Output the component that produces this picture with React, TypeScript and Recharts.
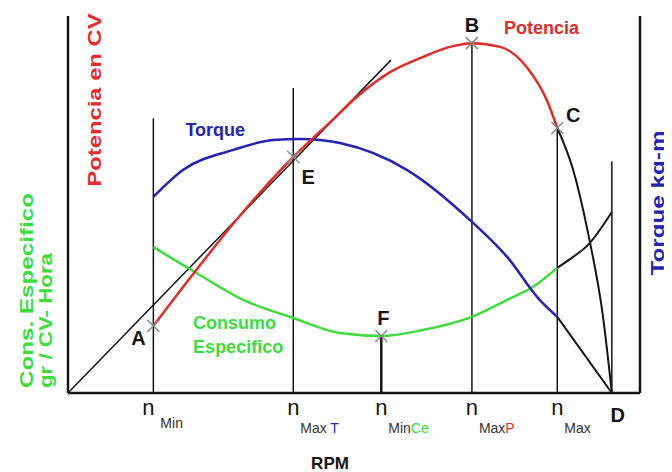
import { ComposedChart, Line, XAxis, YAxis, ReferenceLine, ReferenceDot } from "recharts";

const RED = "#e32b2b";
const BLUE = "#2424b4";
const GREEN = "#3ddc3d";
const INK = "#151515";

// rpm / relative value (0-100)
const potencia = [
  { rpm: 970, v: 17.8 }, { rpm: 1440, v: 32.1 }, { rpm: 1960, v: 47.2 }, { rpm: 2560, v: 62.6 },
  { rpm: 3010, v: 72.5 }, { rpm: 3280, v: 78.5 }, { rpm: 3660, v: 85.1 }, { rpm: 4030, v: 89.1 },
  { rpm: 4340, v: 91.8 }, { rpm: 4590, v: 92.8 }, { rpm: 4910, v: 91.8 }, { rpm: 5220, v: 86.2 },
  { rpm: 5440, v: 77.7 }, { rpm: 5560, v: 70.3 },
];
const potenciaCaida = [
  { rpm: 5560, v: 70.3 }, { rpm: 5740, v: 59.2 }, { rpm: 5910, v: 42.4 }, { rpm: 6080, v: 20.2 }, { rpm: 6180, v: 0 },
];
const torque = [
  { rpm: 970, v: 52.0 }, { rpm: 1310, v: 59.2 }, { rpm: 1880, v: 64.5 }, { rpm: 2330, v: 67.1 },
  { rpm: 2640, v: 67.4 }, { rpm: 3090, v: 66.3 }, { rpm: 3850, v: 59.2 }, { rpm: 4590, v: 45.4 },
  { rpm: 4990, v: 36.1 }, { rpm: 5360, v: 24.7 }, { rpm: 5560, v: 20.2 },
];
const torqueCaida = [{ rpm: 5560, v: 20.2 }, { rpm: 6180, v: 0 }];
const consumo = [
  { rpm: 970, v: 38.7 }, { rpm: 1440, v: 32.1 }, { rpm: 1990, v: 24.7 }, { rpm: 2560, v: 19.9 },
  { rpm: 3090, v: 15.9 }, { rpm: 3560, v: 15.1 }, { rpm: 4030, v: 16.7 }, { rpm: 4590, v: 20.2 },
  { rpm: 4990, v: 24.7 }, { rpm: 5280, v: 28.1 }, { rpm: 5560, v: 33.2 },
];
const consumoSube = [{ rpm: 5560, v: 33.2 }, { rpm: 5740, v: 36.1 }, { rpm: 5910, v: 39.3 }, { rpm: 6180, v: 48.0 }];
const tangente = [{ rpm: 0, v: 0 }, { rpm: 3670, v: 88.3 }];

// vertical guides
const guiaRpm = [970, 2560, 3560, 4590, 5560, 6180];
const guiaTope = [72.9, 80.9, 15.1, 92.8, 70.3, 61.5];

// points A..F
const puntos = [
  { id: "A", rpm: 970, v: 17.8 },
  { id: "E", rpm: 2560, v: 62.6 },
  { id: "F", rpm: 3560, v: 15.1 },
  { id: "B", rpm: 4590, v: 92.8 },
  { id: "C", rpm: 5560, v: 70.3 },
];

// x ticks
const tickRpm = [970, 2560, 3560, 4590, 5560, 6180];
const tickMain = ["n", "n", "n", "n", "n", "D"];
const tickSub = ["Min", "Max ", "Min", "Max", "Max", ""];
const tickAccent = ["", "T", "Ce", "P", "", ""];

const ACCENT: Record<string, string> = { T: BLUE, Ce: GREEN, P: RED };
const LETTER_OFFSET: Record<string, [number, number]> = {
  A: [-15, 19], E: [15, 27], F: [2, -11], B: [0, -11], C: [16, -6],
};

function RpmTick({ x, y, payload }: any) {
  const i = tickRpm.indexOf(payload.value);
  if (tickMain[i] === "D") {
    return (
      <text x={x + 6} y={y + 29} textAnchor="middle" fontSize={20} fontWeight="bold" fill={INK}>D</text>
    );
  }
  return (
    <g fontFamily="Liberation Sans, Arial, sans-serif">
      <text x={x - (i === 0 ? 5 : 0)} y={y + 22} textAnchor="middle" fontSize={22} fill={INK}>{tickMain[i]}</text>
      <text x={x + 7} y={y + (i === 0 ? 35 : 40)} fontSize={14} fill="#333">
        {tickSub[i]}
        {tickAccent[i] && <tspan fill={ACCENT[tickAccent[i]]}>{tickAccent[i]}</tspan>}
      </text>
    </g>
  );
}

function Cross({ cx, cy, id }: any) {
  const [dx, dy] = LETTER_OFFSET[id];
  return (
    <g>
      <line x1={cx - 6} y1={cy - 6} x2={cx + 6} y2={cy + 6} stroke="#8c8c8c" strokeWidth={1.5} />
      <line x1={cx - 6} y1={cy + 6} x2={cx + 6} y2={cy - 6} stroke="#8c8c8c" strokeWidth={1.5} />
      <text x={cx + dx} y={cy + dy} textAnchor="middle" fontSize={20} fontWeight="bold" fill={INK}>{id}</text>
    </g>
  );
}

function Note({ cx, cy, dx, dy, color, lines }: any) {
  return (
    <text x={cx + dx} y={cy + dy} fontSize={18} fontWeight="bold" fill={color}>
      {lines.map((t: string, k: number) => (
        <tspan key={t} x={cx + dx} dy={k === 0 ? 0 : 24}>{t}</tspan>
      ))}
    </text>
  );
}

function LeftTitles({ viewBox }: any) {
  const { x, y, width, height } = viewBox;
  const bottom = y + height - 5;
  return (
    <g fontWeight="bold" fontSize={19}>
      <text x={x + width + 33} y={y + 84} transform={`rotate(-90, ${x + width + 33}, ${y + 84})`}
        textAnchor="middle" fill={RED} textLength={173} lengthAdjust="spacingAndGlyphs">Potencia en CV</text>
      <text x={x + 25} y={bottom} transform={`rotate(-90, ${x + 25}, ${bottom})`}
        fill={GREEN} textLength={195} lengthAdjust="spacingAndGlyphs">Cons. Especifico</text>
      <text x={x + 44} y={bottom} transform={`rotate(-90, ${x + 44}, ${bottom})`}
        fill={GREEN} textLength={135} lengthAdjust="spacingAndGlyphs">gr / CV- Hora</text>
    </g>
  );
}

function RightTitle({ viewBox }: any) {
  const { x, y } = viewBox;
  const cx = x + 24;
  const cy = y + 187;
  return (
    <text x={cx} y={cy} transform={`rotate(-90, ${cx}, ${cy})`} textAnchor="middle" fontSize={19}
      fontWeight="bold" fill={BLUE} textLength={145} lengthAdjust="spacingAndGlyphs">Torque kg-m</text>
  );
}

function RpmTitle({ viewBox }: any) {
  const { x, y } = viewBox;
  return (
    <text x={x + 262} y={y + 76} textAnchor="middle" fontSize={17} fontWeight="bold" fill={INK}>RPM</text>
  );
}

export default function App() {
  return (
    <div style={{ width: 664, height: 464, background: "#fff", fontFamily: "Liberation Sans, Arial, sans-serif" }}>
      <ComposedChart width={664} height={464} margin={{ top: 8, right: 8, bottom: 19, left: 0 }}>
        <XAxis
          dataKey="rpm"
          type="number"
          domain={[0, 6500]}
          ticks={tickRpm}
          tick={<RpmTick />}
          tickLine={false}
          tickSize={0}
          tickMargin={0}
          height={60}
          axisLine={{ stroke: INK, strokeWidth: 2.5 }}
          label={(p: any) => <RpmTitle {...p} />}
          interval={0}
        />
        <YAxis
          type="number"
          domain={[0, 100]}
          width={60}
          tick={false}
          tickLine={false}
          axisLine={{ stroke: INK, strokeWidth: 2.5 }}
          label={(p: any) => <LeftTitles {...p} />}
        />
        <YAxis
          yAxisId="r"
          orientation="right"
          type="number"
          domain={[0, 100]}
          width={24}
          tick={false}
          tickLine={false}
          axisLine={{ stroke: INK, strokeWidth: 2.5 }}
          label={(p: any) => <RightTitle {...p} />}
        />

        {guiaRpm.map((r, i) => (
          <ReferenceLine
            key={r}
            segment={[{ x: r, y: 0 }, { x: r, y: guiaTope[i] }]}
            stroke={INK}
            strokeWidth={i === 2 ? 2.5 : 1.5}
          />
        ))}

        <Line data={tangente} dataKey="v" type="linear" stroke={INK} strokeWidth={1.5} dot={false} isAnimationActive={false} />
        <Line data={potenciaCaida} dataKey="v" type="monotone" stroke={INK} strokeWidth={2} dot={false} isAnimationActive={false} />
        <Line data={torqueCaida} dataKey="v" type="linear" stroke={INK} strokeWidth={2} dot={false} isAnimationActive={false} />
        <Line data={consumoSube} dataKey="v" type="monotone" stroke={INK} strokeWidth={2} dot={false} isAnimationActive={false} />
        <Line data={consumo} dataKey="v" type="monotone" stroke={GREEN} strokeWidth={2.5} dot={false} isAnimationActive={false} />
        <Line data={torque} dataKey="v" type="monotone" stroke={BLUE} strokeWidth={2.5} dot={false} isAnimationActive={false} />
        <Line data={potencia} dataKey="v" type="monotone" stroke={RED} strokeWidth={2.5} dot={false} isAnimationActive={false} />

        {puntos.map((p) => (
          <ReferenceDot key={p.id} x={p.rpm} y={p.v} r={0} shape={(s: any) => <Cross {...s} id={p.id} />} />
        ))}

        <ReferenceDot x={torque[2].rpm} y={torque[2].v} r={0}
          shape={(s: any) => <Note {...s} dx={-48} dy={-14} color={BLUE} lines={["Torque"]} />} />
        <ReferenceDot x={potencia[9].rpm} y={potencia[9].v} r={0}
          shape={(s: any) => <Note {...s} dx={32} dy={-9} color={RED} lines={["Potencia"]} />} />
        <ReferenceDot x={consumo[2].rpm} y={consumo[2].v} r={0}
          shape={(s: any) => <Note {...s} dx={-50} dy={29} color={GREEN} lines={["Consumo", "Especifico"]} />} />
      </ComposedChart>
    </div>
  );
}
